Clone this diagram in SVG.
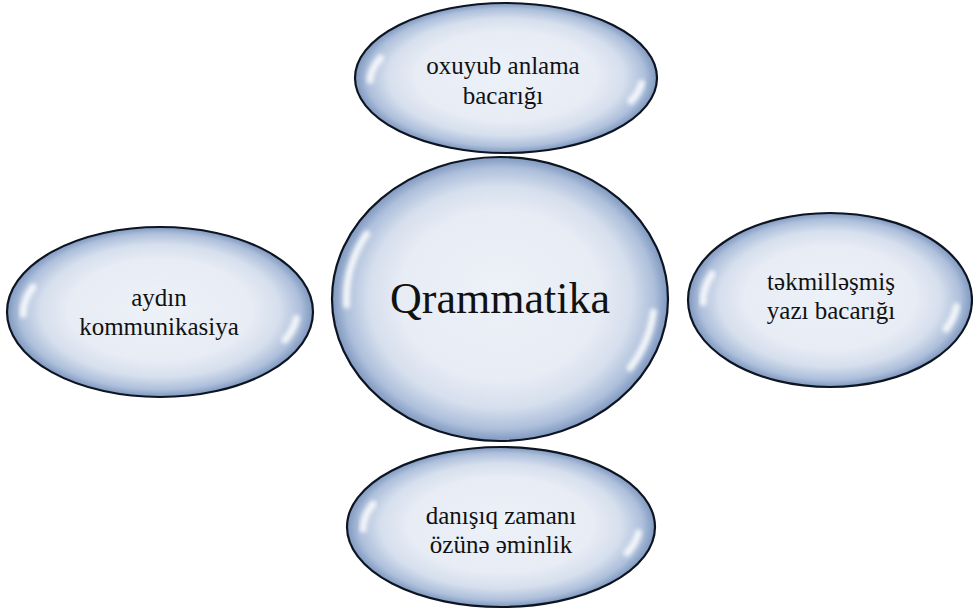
<svg xmlns="http://www.w3.org/2000/svg" width="973" height="610" viewBox="0 0 973 610">
<defs>
  <radialGradient id="bubble" cx="0.5" cy="0.5" r="0.5" fx="0.5" fy="0.47">
    <stop offset="0" stop-color="#edf1f8"/>
    <stop offset="0.6" stop-color="#e7ecf5"/>
    <stop offset="0.78" stop-color="#d6dfed"/>
    <stop offset="0.92" stop-color="#adbfdb"/>
    <stop offset="1" stop-color="#7f98bf"/>
  </radialGradient>
  <filter id="soft" x="-50%" y="-50%" width="200%" height="200%">
    <feGaussianBlur stdDeviation="2.2"/>
  </filter>
  <style>
    .shape { fill: url(#bubble); stroke: #0e1522; stroke-width: 2.2; }
    .hl { fill: none; stroke: #ffffff; stroke-width: 7; stroke-linecap: round; opacity: 0.85; filter: url(#soft); }
    .lbl { font-family: "Liberation Serif", "Times New Roman", serif; font-size: 25px; fill: #111111; text-anchor: middle; }
    .main { font-family: "Liberation Serif", "Times New Roman", serif; font-size: 44px; fill: #111111; text-anchor: middle; }
  </style>
</defs>
<rect width="973" height="610" fill="#ffffff"/>
<g id="connectors"/>
<g id="node-top">
  <ellipse class="shape" cx="506" cy="78" rx="151" ry="75"/>
  <path class="hl" d="M380.5,58 A136,62 0 0 0 370.1,80.2"/>
  <path class="hl" d="M641.5,83.4 A136,62 0 0 1 631,101"/>
  <text class="lbl" x="503" y="74">oxuyub anlama<tspan x="503" dy="29.5">bacarığı</tspan></text>
</g>
<g id="node-center">
  <ellipse class="shape" cx="500" cy="299" rx="168" ry="142"/>
  <path class="hl" d="M366.6,234 A154,130 0 0 0 346.6,305"/>
  <path class="hl" d="M653.4,312 A154,130 0 0 1 630,368"/>
  <text class="main" x="500" y="313">Qrammatika</text>
</g>
<g id="node-left">
  <ellipse class="shape" cx="160" cy="312" rx="153" ry="85"/>
  <path class="hl" d="M33,287 A137,72 0 0 0 23.1,314.5"/>
  <path class="hl" d="M296.5,318.3 A137,72 0 0 1 285,340"/>
  <text class="lbl" x="159" y="305.5">aydın<tspan x="159" dy="29.5">kommunikasiya</tspan></text>
</g>
<g id="node-right">
  <ellipse class="shape" cx="830" cy="300" rx="142" ry="87"/>
  <path class="hl" d="M712,274 A127,74 0 0 0 703.1,302.6"/>
  <path class="hl" d="M956.5,306.4 A127,74 0 0 1 946,329"/>
  <text class="lbl" x="831" y="289.5">təkmilləşmiş<tspan x="831" dy="29.5">yazı bacarığı</tspan></text>
</g>
<g id="node-bottom">
  <ellipse class="shape" cx="501" cy="527" rx="154" ry="80"/>
  <path class="hl" d="M373,504 A138,67 0 0 0 363.1,529.3"/>
  <path class="hl" d="M638.5,532.8 A138,67 0 0 1 627,553"/>
  <text class="lbl" x="501" y="523.5">danışıq zamanı<tspan x="501" dy="29.5">özünə əminlik</tspan></text>
</g>
</svg>
